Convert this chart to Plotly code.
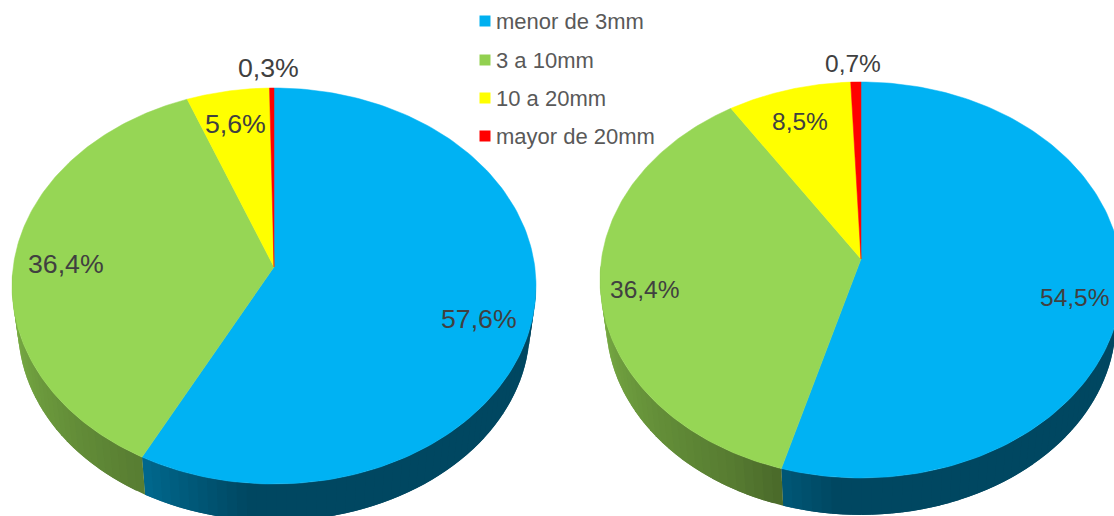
"""Two tilted 3D-look pie charts with a shared legend, drawn on a pixel-sized plane."""
import numpy as np
import plotly.graph_objects as go

categories = ["menor de 3mm", "3 a 10mm", "10 a 20mm", "mayor de 20mm"]
left_values = [57.6, 36.4, 5.6, 0.3]
right_values = [54.5, 36.4, 8.5, 0.7]
left_labels = ["57,6%", "36,4%", "5,6%", "0,3%"]
right_labels = ["54,5%", "36,4%", "8,5%", "0,7%"]
colors = ["#00b2f3", "#96d655", "#ffff00", "#ff0000"]
legend_colors = ["#00b0f0", "#92d050", "#ffff00", "#ff0000"]

WIDTH, HEIGHT = 1114, 516
DEPTH = 42
BOTTOM_SCALE = 0.977


def project(theta, cx, cy, a, b, p, scale=1.0, drop=0):
    """Clockwise degrees from the top to page position on a tilted disc."""
    rad = np.radians(theta)
    u, v = np.sin(rad), -np.cos(rad)
    w = 1 - p * v
    return cx + scale * a * u / w, cy + drop + scale * b * v / w


def wall_shade(theta):
    return np.interp(theta, [0, 185, 207, 270, 360], [0.4, 0.4, 0.58, 0.85, 0.85])


def darken(hex_color, factor):
    r, g, b = [int(hex_color[i:i + 2], 16) for i in (1, 3, 5)]
    return f"rgb({r * factor:.0f},{g * factor:.0f},{b * factor:.0f})"


def add_pie(fig, values, cx, cy, a, b, p):
    edges = np.cumsum([0] + values) / sum(values) * 360

    # side wall first, strips overlap the next one so no hairlines show between them
    for i, color in enumerate(colors):
        start, end = max(edges[i], 95), min(edges[i + 1], 268)
        if end <= start:
            continue
        steps = np.linspace(start, end, max(2, int((end - start) / 2) + 1))
        for t0, t1 in zip(steps[:-1], steps[1:]):
            thetas = np.linspace(t0, min(t1 + 2, end), 4)
            tx, ty = project(thetas, cx, cy, a, b, p)
            bx, by = project(thetas, cx, cy, a, b, p, BOTTOM_SCALE, DEPTH)
            fig.add_trace(go.Scatter(
                x=np.concatenate([tx, bx[::-1], tx[:1]]),
                y=np.concatenate([ty, by[::-1], ty[:1]]),
                mode="lines",
                fill="toself",
                fillcolor=darken(color, wall_shade((t0 + t1) / 2)),
                line=dict(width=0),
                hoverinfo="skip",
                showlegend=False,
            ))

    # top face
    for i, color in enumerate(colors):
        thetas = np.linspace(edges[i], edges[i + 1], 160)
        x, y = project(thetas, cx, cy, a, b, p)
        fig.add_trace(go.Scatter(
            x=np.concatenate([[cx], x, [cx]]),
            y=np.concatenate([[cy], y, [cy]]),
            mode="lines",
            fill="toself",
            fillcolor=color,
            line=dict(color=color, width=0.5),
            name=categories[i],
            hoverinfo="name",
            showlegend=False,
        ))


fig = go.Figure()
add_pie(fig, left_values, 274, 267, 260.8, 196.2, 0.096)
add_pie(fig, right_values, 861, 259, 259.5, 195.8, 0.106)

left_label_pos = [(479, 319), (66, 264), (235, 124), (268, 68)]
right_label_pos = [(1074, 297), (644, 289), (800, 121), (853, 63)]
annotations = []
for labels, places, size in [(left_labels, left_label_pos, 26.7), (right_labels, right_label_pos, 24.5)]:
    for text, (x, y) in zip(labels, places):
        annotations.append(dict(
            x=x, y=y, text=text, showarrow=False,
            font=dict(family="Liberation Sans", size=size, color="#404040"),
        ))

legend_y = [21, 60, 98, 136]
fig.add_trace(go.Scatter(
    x=[485] * 4,
    y=legend_y,
    mode="markers",
    marker=dict(symbol="square", size=11, color=legend_colors),
    hoverinfo="skip",
    showlegend=False,
))
for name, y in zip(categories, legend_y):
    annotations.append(dict(
        x=496, y=y, text=name, showarrow=False, xanchor="left", xshift=-2,
        font=dict(family="Liberation Sans", size=22, color="#595959"),
    ))

fig.update_layout(
    width=WIDTH,
    height=HEIGHT,
    margin=dict(l=0, r=0, t=0, b=0),
    paper_bgcolor="white",
    plot_bgcolor="white",
    annotations=annotations,
    xaxis=dict(range=[0, WIDTH], visible=False, fixedrange=True),
    yaxis=dict(range=[HEIGHT, 0], visible=False, fixedrange=True),
)

fig.write_html(
    "out.html",
    config={"displayModeBar": False},
    post_script="document.body.style.margin='0';",
)
